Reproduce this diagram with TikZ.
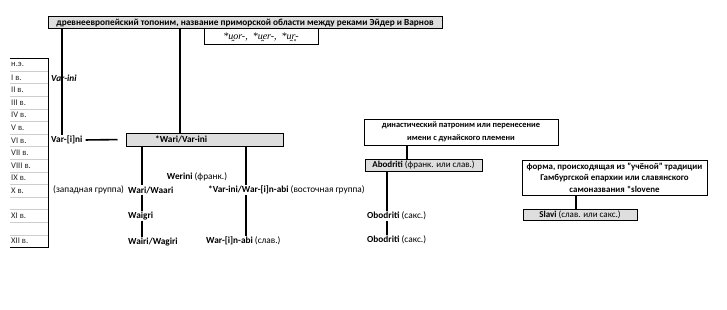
\documentclass[tikz,border=0pt]{standalone}
\usepackage{fontspec}
\setmainfont{Carlito}
\newfontfamily\rootfont{Liberation Serif}
\usetikzlibrary{calc}
\definecolor{cellgray}{RGB}{222,222,222}
\definecolor{gridgray}{RGB}{205,205,205}
\newcommand\mainsize{\fontsize{9.3}{11}\selectfont}
\newcommand\boxsize{\fontsize{9}{11}\selectfont}

\begin{document}
\begin{tikzpicture}[x=1pt, y=-1pt,
    graybox/.style={rectangle, draw=black, fill=cellgray, line width=1pt, inner sep=0pt,
                    font=\boxsize},
    whitebox/.style={rectangle, draw=black, fill=white, line width=1pt, inner sep=0pt,
                     align=center},
    word/.style={anchor=west, inner sep=1pt, font=\mainsize},
    link/.style={line width=1.6pt},
    rowlabel/.style={anchor=west, inner sep=0pt, text=black!85, font=\fontsize{8.6}{10}\selectfont},
    gridline/.style={draw=gridgray, line width=0.5pt},
    frame/.style={line width=1.4pt}
  ]
    \useasboundingbox (0,0) rectangle (727,310);

    % century scale
    \foreach \lbl [count=\i from 0] in {н.э., I в., II в., III в., IV в., V в., VI в., VII в., VIII в., IX в., X в., {}, XI в., {}, XII в.}
      \node[rowlabel] (age\i) at (11, {64.8+12.6*\i}) {\lbl};
    \foreach \i in {1,...,14}
      \draw[gridline] (10, {58.5+12.6*\i}) -- (48, {58.5+12.6*\i});
    \draw[frame] (10,58.5) -- (48.5,58.5) -- (48.5,247.5) -- (10,247.5);

    \node[graybox, minimum width=394, minimum height=12, font=\mainsize\bfseries] (topic) at (245,23)
      {древнеевропейский топоним, название приморской области между реками Эйдер и Варнов};
    \node[whitebox, minimum width=114, minimum height=16, font=\rootfont\itshape\fontsize{10}{12}\selectfont] (roots) at (261,37)
      {*u̯or-,\ \ *u̯er-,\ \ *u̯r̥-};

    \node[word, font=\mainsize\bfseries\itshape] (varini) at (50,78) {Var-ini};
    \node[word, font=\mainsize\bfseries] (vrin) at (50,140) {Var-[i]ni};
    \node[graybox, minimum width=157, minimum height=13] (wari) at (204.5,139.5) {};
    \node[word, font=\mainsize\bfseries] (warilbl) at (154,139.5) {*Wari/Var-ini};

    \node[word, anchor=center] (werini) at (197,177) {{\bfseries Werini} (франк.)};
    \node[word] (westgrp) at (52,190) {(западная группа)};
    \node[word, font=\mainsize\bfseries] (waari) at (127,190) {Wari/Waari};
    \node[word] (eastgrp) at (207,190) {{\bfseries *Var-ini/War-[i]n-abi} (восточная группа)};
    \node[word, font=\mainsize\bfseries] (waigri) at (127,216) {Waigri};
    \node[word, font=\mainsize\bfseries] (wagiri) at (127,242) {Wairi/Wagiri};
    \node[word] (warnabi) at (205,241) {{\bfseries War-[i]n-abi} (слав.)};

    \node[whitebox, minimum width=194, minimum height=26, font=\fontsize{8.4}{13}\selectfont\bfseries] (dyn) at (461,132)
      {династический патроним или перенесение\\имени с дунайского племени};
    \node[graybox, minimum width=117, minimum height=12] (abod) at (423.5,165)
      {{\bfseries Abodriti} (франк. или слав.)};
    \node[word] (obod1) at (366,216) {{\bfseries Obodriti} (сакс.)};
    \node[word] (obod2) at (366,240) {{\bfseries Obodriti} (сакс.)};

    \node[whitebox, minimum width=185, minimum height=35, font=\fontsize{8.9}{11.5}\selectfont\bfseries] (form) at (614.5,177.5)
      {форма, происходящая из "учёной" традиции\\Гамбургской епархии или славянского\\самоназвания *slovene};
    \node[graybox, minimum width=114, minimum height=11] (slavi) at (580,214.5)
      {{\bfseries Slavi} (слав. или сакс.)};

    % connector columns
    \coordinate (colA) at (62,0);
    \coordinate (colB) at (180,0);
    \coordinate (colC) at (142,0);
    \coordinate (colD) at (246,0);
    \coordinate (colE) at (407,0);
    \coordinate (colF) at (387,0);
    \coordinate (colG) at (576,0);

    \draw[link] (colA |- topic.south) -- (colA |- vrin.north);
    \draw[link] (colB |- topic.south) -- (colB |- wari.north);
    \draw[link, shorten <=2pt, shorten >=8pt] (vrin.east) -- (wari.west);
    \draw[link] (colC |- wari.south) -- (colC |- waari.north);
    \draw[link] (colC |- waari.south) -- (colC |- waigri.north);
    \draw[link] (colC |- waigri.south) -- (colC |- wagiri.north);
    \draw[link] (colD |- wari.south) -- (colD |- eastgrp.north);
    \draw[link] (colD |- eastgrp.south) -- (colD |- warnabi.north);
    \draw[link] (colE |- dyn.south) -- (colE |- abod.north);
    \draw[link] (colF |- abod.south) -- (colF |- obod1.north);
    \draw[link] (colF |- obod1.south) -- (colF |- obod2.north);
    \draw[link] (colG |- form.south) -- (colG |- slavi.north);
\end{tikzpicture}
\end{document}
